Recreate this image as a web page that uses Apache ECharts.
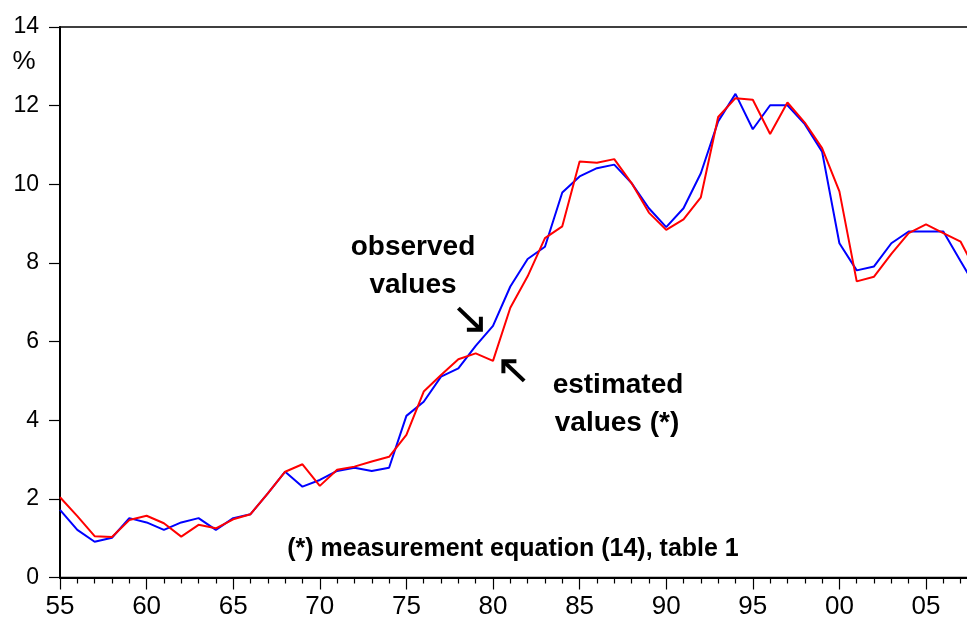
<!DOCTYPE html>
<html>
<head>
<meta charset="utf-8">
<title>observed vs estimated</title>
<script src="https://cdn.jsdelivr.net/npm/echarts@6/dist/echarts.min.js"></script>
<style>
	html, body { margin: 0; padding: 0; background: #fff; }
	#chart { width: 967px; height: 619px; }
</style>
</head>
<body>
<div id="chart"></div>
<script>
// years 1955 - 2008 (the last one runs past the right edge)
const years = [];
for (let y = 1955; y <= 2008; y++) years.push(y);

const observed = [
	1.72, 1.21, 0.91, 1.01, 1.51, 1.40, 1.21, 1.40, 1.51, 1.21,
	1.51, 1.61, 2.14, 2.69, 2.31, 2.48, 2.71, 2.79, 2.71, 2.79,
	4.11, 4.47, 5.11, 5.32, 5.89, 6.40, 7.40, 8.10, 8.41, 9.79,
	10.20, 10.41, 10.50, 10.03, 9.39, 8.91, 9.39, 10.28, 11.60, 12.30,
	11.40, 12.01, 12.01, 11.53, 10.83, 8.50, 7.81, 7.91, 8.50, 8.80,
	8.80, 8.80, 8.04, 7.30,
];
const estimated = [
	2.04, 1.56, 1.05, 1.03, 1.46, 1.57, 1.38, 1.04, 1.34, 1.25,
	1.48, 1.61, 2.14, 2.69, 2.88, 2.33, 2.74, 2.82, 2.95, 3.07,
	3.63, 4.73, 5.15, 5.55, 5.70, 5.51, 6.86, 7.66, 8.63, 8.93,
	10.58, 10.55, 10.64, 10.03, 9.28, 8.84, 9.11, 9.67, 11.71, 12.19,
	12.15, 11.28, 12.08, 11.57, 10.92, 9.82, 7.53, 7.65, 8.23, 8.76,
	8.98, 8.76, 8.54, 7.70,
];
const yTicks = { min: 0, max: 14, step: 2 };
const xTicks = { min: 1955, max: 2010, step: 5 };

const chart = echarts.init(document.getElementById("chart"));

const font = "'Liberation Sans', Arial, sans-serif";

const toPairs = (arr) => arr.map((v, i) => [years[i], v]);

const option = {
	animation: false,
	backgroundColor: "#fff",
	grid: {
		left: 60,
		top: 27,
		bottom: 41.5,
		right: -45.6, // axis goes on to 2010, window cuts it off near 2007
		containLabel: false,
		outerBoundsMode: "none",
		show: true,
		borderColor: "#000",
		borderWidth: 1.5,
	},
	xAxis: {
		type: "value",
		min: xTicks.min,
		max: xTicks.max,
		interval: xTicks.step,
		axisLine: { lineStyle: { color: "#000", width: 2 } },
		axisTick: { inside: false, length: 12, lineStyle: { color: "#000", width: 1.2 } },
		minorTick: { show: true, splitNumber: 5, length: 6, lineStyle: { color: "#000", width: 1.2 } },
		splitLine: { show: false },
		axisLabel: {
			margin: 16,
			color: "#000",
			fontFamily: font,
			fontSize: 26,
			formatter: (v) => String(v % 100).padStart(2, "0"),
		},
	},
	yAxis: {
		type: "value",
		min: yTicks.min,
		max: yTicks.max,
		interval: yTicks.step,
		axisLine: { show: true, lineStyle: { color: "#000", width: 2 } },
		axisTick: { show: true, inside: false, length: 11, lineStyle: { color: "#000", width: 1.2 } },
		splitLine: { show: false },
		axisLabel: { margin: 21, color: "#000", fontFamily: font, fontSize: 23 },
	},
	series: [
		{
			name: "observed values",
			type: "line",
			data: toPairs(observed),
			showSymbol: false,
			lineStyle: { color: "#0000ff", width: 2 },
			itemStyle: { color: "#0000ff" },
		},
		{
			name: "estimated values (*)",
			type: "line",
			data: toPairs(estimated),
			showSymbol: false,
			lineStyle: { color: "#ff0000", width: 2 },
			itemStyle: { color: "#ff0000" },
		},
	],
};
chart.setOption(option);

// annotation arrows are placed in data units and converted to pixels
const px = (x, y) => chart.convertToPixel({ gridIndex: 0 }, [x, y]);
function arrow(tail, tip, armA, armB) {
	const t = px(tail[0], tail[1]);
	const p = px(tip[0], tip[1]);
	return [
		{ type: "line", shape: { x1: t[0], y1: t[1], x2: p[0], y2: p[1] }, style: { stroke: "#000", lineWidth: 4 } },
		{
			type: "polyline",
			shape: { points: [[p[0] + armA[0], p[1] + armA[1]], p, [p[0] + armB[0], p[1] + armB[1]]] },
			style: { stroke: "#000", lineWidth: 4, fill: null, lineJoin: "miter" },
		},
	];
}

const label = (text, x, y, size, align) => ({
	type: "text",
	x: x,
	y: y,
	style: {
		text: text,
		font: "bold " + size + "px " + font,
		fill: "#000",
		align: align || "center",
		verticalAlign: "middle",
	},
});

chart.setOption({
	graphic: [
		{ type: "text", x: 24, y: 62, style: { text: "%", font: "26px " + font, fill: "#000", align: "center", verticalAlign: "middle" } },
		label("observed", 413, 247, 28),
		label("values", 413, 285, 28),
		label("estimated", 618, 385, 28),
		label("values (*)", 617, 423, 28),
		label("(*) measurement equation (14), table 1", 513, 549, 25),
		...arrow([1978.0, 6.85], [1979.3, 6.3], [-14, 0], [0, -13]),
		...arrow([1981.8, 5.0], [1980.6, 5.5], [13, 0], [0, 12]),
	],
});
</script>
</body>
</html>
